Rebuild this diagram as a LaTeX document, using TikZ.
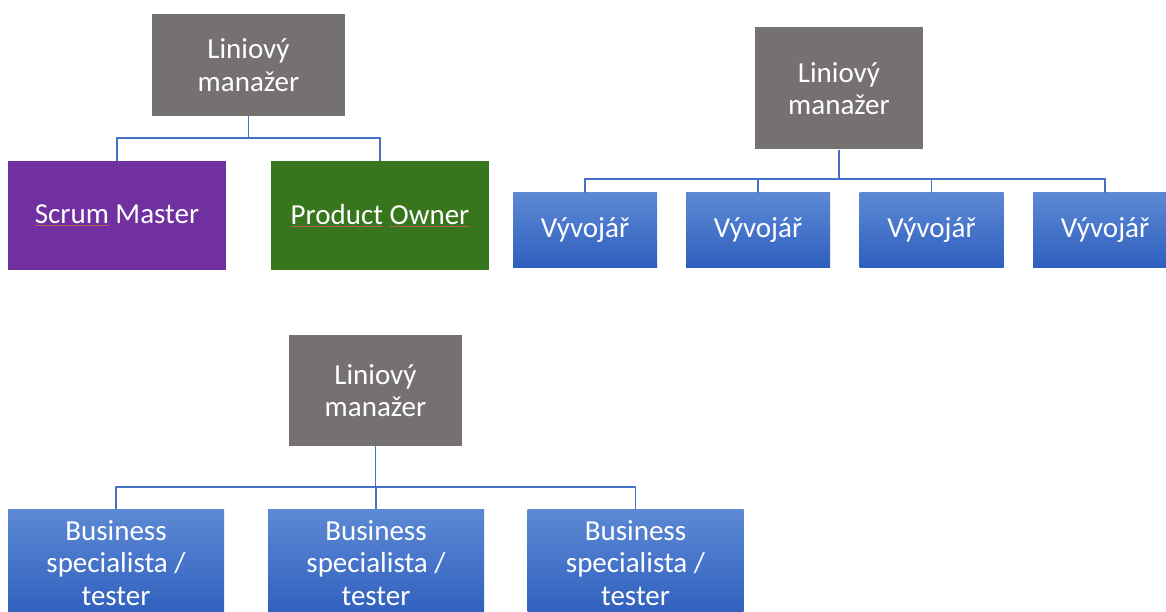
\documentclass[tikz,border=0pt]{standalone}
\usepackage{fontspec}
\setmainfont{Carlito}
\usetikzlibrary{positioning,calc}
\definecolor{mgrgrey}{RGB}{118,113,113}
\definecolor{smpurple}{RGB}{112,48,160}
\definecolor{pogreen}{RGB}{56,118,30}
\definecolor{devtop}{RGB}{93,137,212}
\definecolor{devbot}{RGB}{47,95,190}
\definecolor{linkblue}{RGB}{68,114,196}
\definecolor{spellred}{RGB}{185,95,90}
\newcommand{\spellmark}[1]{\setbox0\hbox{#1}\rlap{\color{spellred}\rule[-2pt]{\wd0}{0.6pt}}\box0\relax}
\tikzstyle{box} = [rectangle, inner sep=0pt, text=white, align=center, font=\fontsize{29}{32.5}\selectfont]
\tikzstyle{boss} = [box, fill=mgrgrey]
\tikzstyle{dev} = [box, top color=devtop, bottom color=devbot, minimum width=144pt, minimum height=74pt]
\tikzstyle{biz} = [box, top color=devtop, bottom color=devbot, minimum width=216pt, minimum height=108pt]
\tikzstyle{link} = [draw=linkblue, line width=1.2pt]

\begin{document}
\begin{tikzpicture}[x=1pt,y=-1pt]
\useasboundingbox (0,0) rectangle (1166,612);
\clip (0,0) rectangle (1166,612);
% team 1
\node[boss, minimum width=193pt, minimum height=102pt] (m1) at (248.5,65) {Liniový\\manažer};
\node[box, fill=smpurple, minimum width=218pt, minimum height=109pt] (sm) at (117,215.5) {\spellmark{Scrum} Master};
\node[box, fill=pogreen, minimum width=218pt, minimum height=109pt] (po) at (380,215.5) {\spellmark{Product} \spellmark{Owner}};
\coordinate (b1) at (248.5,138);
\draw[link] (m1.south) -- (b1);
\draw[link] (b1) -| (sm.north);
\draw[link] (b1) -| (po.north);
% team 2
\node[boss, minimum width=168pt, minimum height=122pt] (m2) at (839,88.5) {Liniový\\manažer};
\node[dev] (d1) at (585,230) {Vývojář};
\node[dev] (d2) at (758,230) {Vývojář};
\node[dev] (d3) at (931.5,230) {Vývojář};
\node[dev] (d4) at (1105,230) {Vývojář};
\coordinate (b2) at (839,179);
\draw[link] (m2.south) -- (b2);
\foreach \d in {d1,d2,d3,d4}
  \draw[link] (b2) -| (\d.north);
% team 3
\node[boss, minimum width=173pt, minimum height=111pt] (m3) at (375.5,390.5) {Liniový\\manažer};
\node[biz] (t1) at (116,563) {Business\\specialista /\\tester};
\node[biz] (t2) at (376,563) {Business\\specialista /\\tester};
\node[biz] (t3) at (635.5,563) {Business\\specialista /\\tester};
\coordinate (b3) at (375.5,487);
\draw[link] (m3.south) -- (b3);
\foreach \t in {t1,t2,t3}
  \draw[link] (b3) -| (\t.north);
\end{tikzpicture}
\end{document}
